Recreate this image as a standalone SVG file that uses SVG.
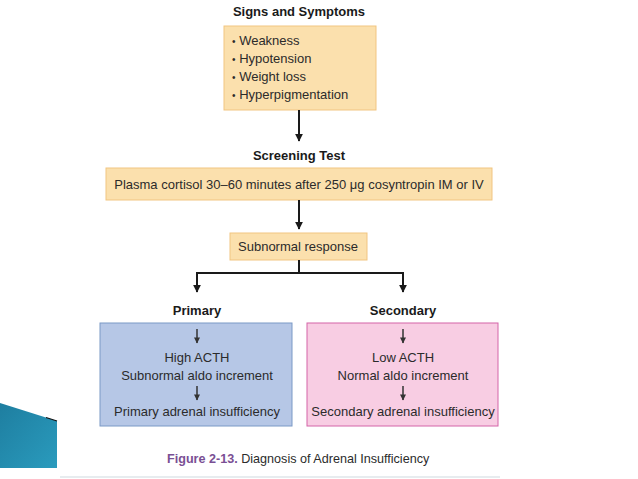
<svg xmlns="http://www.w3.org/2000/svg" width="638" height="479" viewBox="0 0 638 479">
<defs>
<marker id="ah" viewBox="0 0 10 10" refX="9" refY="5" markerWidth="8" markerHeight="8" markerUnits="userSpaceOnUse" orient="auto">
<path d="M0,0 L10,5 L0,10 z" fill="#1a1a1a"/>
</marker>
<marker id="sh" viewBox="0 0 10 10" refX="9" refY="5" markerWidth="7" markerHeight="6" markerUnits="userSpaceOnUse" orient="auto">
<path d="M0,0 L10,5 L0,10 z" fill="#333"/>
</marker>
<linearGradient id="dec" x1="0" y1="0" x2="1" y2="1">
<stop offset="0" stop-color="#1e7ea0"/>
<stop offset="1" stop-color="#2a9bbd"/>
</linearGradient>
</defs>
<style>
text{font-family:"Liberation Sans",Arial,sans-serif;font-size:13px;fill:#2b2b2b}
.h{font-weight:bold;fill:#1a1a1a}
.c{text-anchor:middle}
.b{font-size:10px}
.or{fill:#fbe0ad;stroke:#f1c581;stroke-width:1}
.bl{fill:#b6c7e6;stroke:#7b99c6;stroke-width:1}
.pk{fill:#f8cde3;stroke:#d465a8;stroke-width:1}
.con{stroke:#1a1a1a;stroke-width:2;fill:none}
.sm{stroke:#333;stroke-width:1.5;fill:none}
</style>
<rect width="638" height="479" fill="#fff"/>
<polygon points="0,403 57,421 57,468 0,468" fill="url(#dec)"/>
<line x1="46" y1="417.5" x2="57" y2="421" stroke="#111" stroke-width="1.2"/>
<line x1="60" y1="477" x2="500" y2="477" stroke="#dfe6ea" stroke-width="1.5"/>

<g id="signs">
<text class="h c" x="299" y="16">Signs and Symptoms</text>
<rect class="or" x="224" y="26" width="152" height="84"/>
<text x="232" y="45"><tspan class="b">•</tspan> Weakness</text>
<text x="232" y="63"><tspan class="b">•</tspan> Hypotension</text>
<text x="232" y="81"><tspan class="b">•</tspan> Weight loss</text>
<text x="232" y="99"><tspan class="b">•</tspan> Hyperpigmentation</text>
</g>
<g id="screening">
<text class="h c" x="299" y="160">Screening Test</text>
<rect class="or" x="106" y="168" width="386" height="32"/>
<text class="c" x="299" y="189">Plasma cortisol 30–60 minutes after 250 μg cosyntropin IM or IV</text>
</g>
<g id="subnormal">
<rect class="or" x="230" y="233" width="137" height="27"/>
<text class="c" x="298" y="251">Subnormal response</text>
</g>
<g id="primary">
<text class="h c" x="197" y="315">Primary</text>
<rect class="bl" x="100" y="323" width="192" height="103"/>
<line class="sm" x1="197" y1="329" x2="197" y2="343" marker-end="url(#sh)"/>
<text class="c" x="197" y="362">High ACTH</text>
<text class="c" x="197" y="380">Subnormal aldo increment</text>
<line class="sm" x1="197" y1="386" x2="197" y2="400" marker-end="url(#sh)"/>
<text class="c" x="197" y="416">Primary adrenal insufficiency</text>
</g>
<g id="secondary">
<text class="h c" x="403" y="315">Secondary</text>
<rect class="pk" x="307" y="323" width="191" height="103"/>
<line class="sm" x1="403" y1="329" x2="403" y2="343" marker-end="url(#sh)"/>
<text class="c" x="403" y="362">Low ACTH</text>
<text class="c" x="403" y="380">Normal aldo increment</text>
<line class="sm" x1="403" y1="386" x2="403" y2="400" marker-end="url(#sh)"/>
<text class="c" x="403" y="416">Secondary adrenal insufficiency</text>
</g>
<g id="connectors">
<line class="con" x1="299" y1="110" x2="299" y2="141" marker-end="url(#ah)"/>
<line class="con" x1="299" y1="200" x2="299" y2="229" marker-end="url(#ah)"/>
<polyline class="con" points="299,260 299,273 197,273 197,292" marker-end="url(#ah)"/>
<polyline class="con" points="299,273 403,273 403,292" marker-end="url(#ah)"/>
</g>
<g id="caption">
<text x="167" y="463" style="font-size:12.6px"><tspan style="font-weight:bold;fill:#7a4f94">Figure 2-13.</tspan> Diagnosis of Adrenal Insufficiency</text>
</g>
</svg>
